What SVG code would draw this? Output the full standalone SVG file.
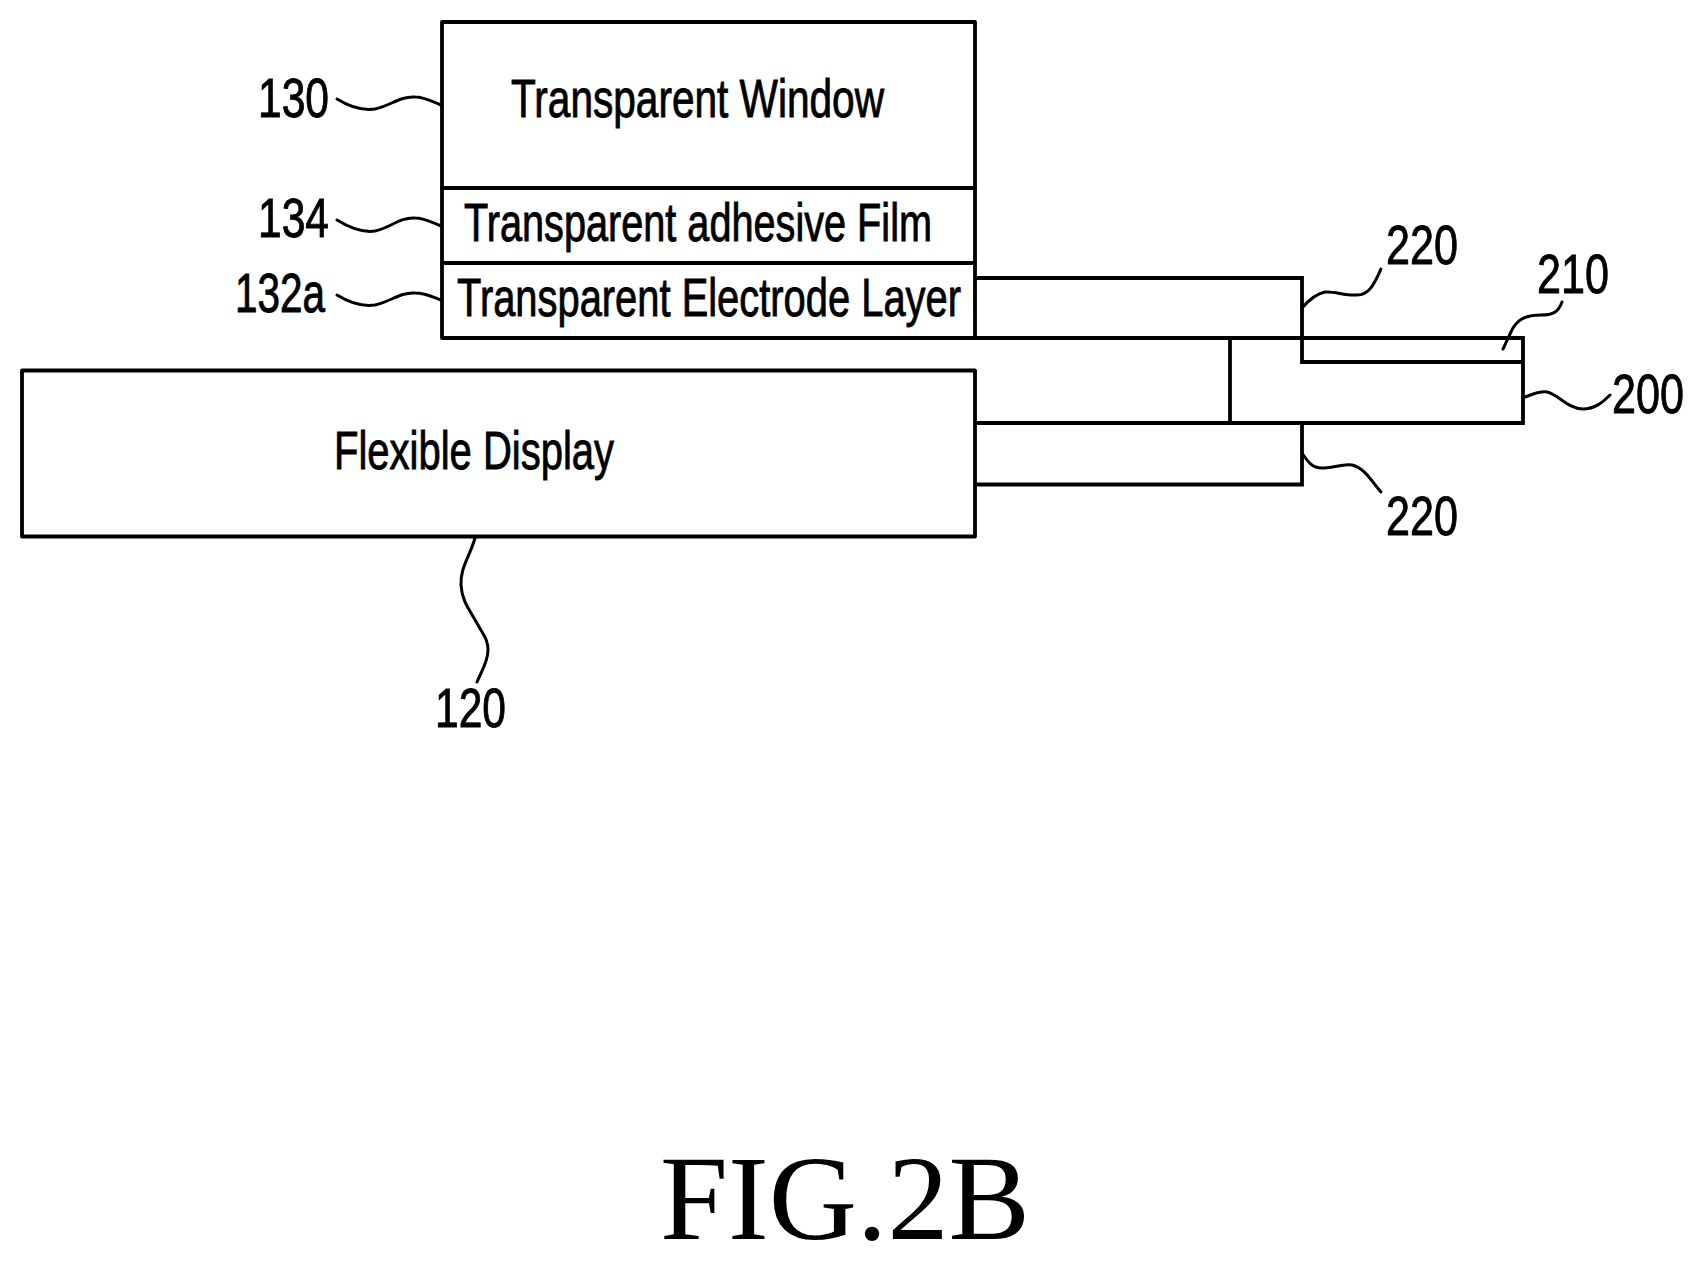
<svg xmlns="http://www.w3.org/2000/svg" width="1703" height="1265" viewBox="0 0 1703 1265">
<style>
.box{fill:#fff;stroke:#000;stroke-width:3.8;stroke-linejoin:round}
.line{fill:none;stroke:#000;stroke-width:3.8;stroke-linejoin:miter}
.lead{fill:none;stroke:#000;stroke-width:3;stroke-linecap:round}
text{font-family:"Liberation Sans",Arial,sans-serif;fill:#000;stroke:#000;stroke-width:.9}
.t{font-size:54px}
.n{font-size:55px}
.fig{font-family:"Liberation Serif","Times New Roman",serif;font-size:120px;stroke:none}
</style>
<rect width="1703" height="1265" fill="#fff"/>
<g id="connectors">
<path class="lead" d="M337,99 C350,107 362,111 375,109 C390,106 400,96 415,97 C425,97 433,102 441,105"/>
<path class="lead" d="M337,220 C350,228 362,233 375,231 C390,228 400,217 415,218 C425,218 433,223 441,226"/>
<path class="lead" d="M337,295 C350,303 362,307 375,305 C390,302 400,292 415,293 C425,293 433,297 441,300"/>
<path class="lead" d="M475,538 C470,556 460,568 461,585 C462,602 470,610 478,625 C484,636 488,640 488,650 C488,662 481,672 477,682"/>
<path class="lead" d="M1381,269 C1375,282 1370,295 1357,295 C1345,296 1335,291 1325,292 C1315,294 1308,301 1302,308"/>
<path class="lead" d="M1562,302 C1558,313 1552,315 1541,315 C1525,315 1516,320 1511,332 C1507,340 1505,345 1503,349"/>
<path class="lead" d="M1525,397 C1533,394 1540,391 1547,392 C1558,394 1568,409 1583,409 C1595,409 1603,402 1610,395"/>
<path class="lead" d="M1302,453 C1308,462 1312,468 1322,468 C1333,469 1342,463 1352,465 C1365,468 1372,482 1381,492"/>
</g>
<g id="node-220-upper"><path class="line" d="M975,278 H1302 V362 H1523"/></g>
<g id="node-200"><path class="line" d="M975,338 H1523 V423 H975"/><path class="line" d="M1230,338 V423"/></g>
<g id="node-220-lower"><path class="line" d="M1302,423 V484.5 H975"/></g>
<g id="node-130"><rect class="box" x="442" y="22" width="533" height="166"/>
<text class="t" x="511" y="117" textLength="373" lengthAdjust="spacingAndGlyphs">Transparent Window</text></g>
<g id="node-134"><rect class="box" x="442" y="188" width="533" height="75"/>
<text class="t" x="464" y="241" textLength="468" lengthAdjust="spacingAndGlyphs">Transparent adhesive Film</text></g>
<g id="node-132a"><rect class="box" x="442" y="263" width="533" height="75"/>
<text class="t" x="457" y="316" textLength="504" lengthAdjust="spacingAndGlyphs">Transparent Electrode Layer</text></g>
<g id="node-120"><rect class="box" x="22" y="370.5" width="953" height="166"/>
<text class="t" x="334" y="469" textLength="280" lengthAdjust="spacingAndGlyphs">Flexible Display</text></g>
<g id="labels">
<text class="n" x="258" y="117" textLength="71" lengthAdjust="spacingAndGlyphs">130</text>
<text class="n" x="258" y="237" textLength="71" lengthAdjust="spacingAndGlyphs">134</text>
<text class="n" x="235" y="312" textLength="90" lengthAdjust="spacingAndGlyphs">132a</text>
<text class="n" x="435" y="727" textLength="71" lengthAdjust="spacingAndGlyphs">120</text>
<text class="n" x="1386" y="264" textLength="72" lengthAdjust="spacingAndGlyphs">220</text>
<text class="n" x="1537" y="293" textLength="72" lengthAdjust="spacingAndGlyphs">210</text>
<text class="n" x="1612" y="413" textLength="72" lengthAdjust="spacingAndGlyphs">200</text>
<text class="n" x="1386" y="535" textLength="72" lengthAdjust="spacingAndGlyphs">220</text>
<text class="fig" x="660" y="1239" textLength="370" lengthAdjust="spacingAndGlyphs">FIG.2B</text>
</g>
</svg>
